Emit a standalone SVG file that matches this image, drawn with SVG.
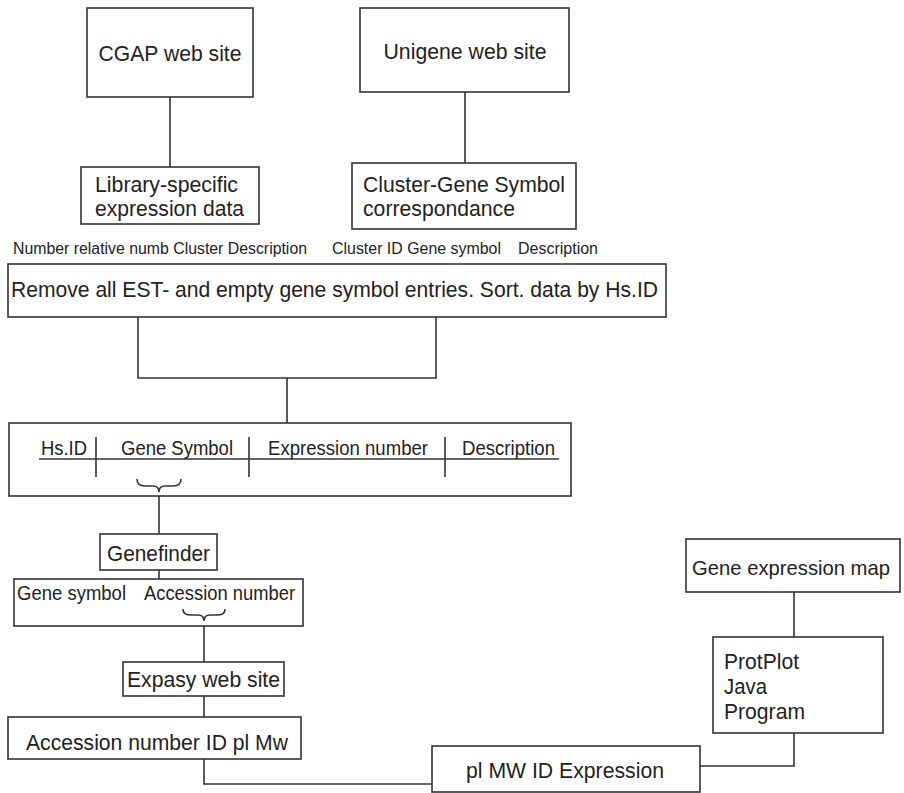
<svg xmlns="http://www.w3.org/2000/svg" width="904" height="793" viewBox="0 0 904 793">
<style>
  .box { fill: #ffffff; stroke: #333333; stroke-width: 1.6; }
  .ln { fill: none; stroke: #333333; stroke-width: 1.6; }
  text { font-family: "Liberation Sans", Arial, sans-serif; fill: #222222; }
  .t22 { font-size: 22px; }
  .t21 { font-size: 21px; }
  .t20 { font-size: 20px; }
  .t16 { font-size: 16px; }
  .mid { text-anchor: middle; }
</style>
<rect width="904" height="793" fill="#ffffff"/>
<g id="connectors">
  <path class="ln" d="M170,97 V167"/>
  <path class="ln" d="M465,92 V163"/>
  <path class="ln" d="M138,317 V378 H436 V317"/>
  <path class="ln" d="M287,378 V423"/>
  <path class="ln" d="M159,492 V534"/>
  <path class="ln" d="M159,570 V579"/>
  <path class="ln" d="M204,621 V662"/>
  <path class="ln" d="M204,696 V717"/>
  <path class="ln" d="M204,759 V784 H432"/>
  <path class="ln" d="M700,766 H794 V733"/>
  <path class="ln" d="M794,592 V637"/>
</g>
<g id="cgap">
  <rect class="box" x="87" y="8" width="166" height="89"/>
  <text class="t22 mid" x="170" y="61" textLength="143" lengthAdjust="spacingAndGlyphs">CGAP web site</text>
</g>
<g id="unigene">
  <rect class="box" x="360" y="8" width="209" height="84"/>
  <text class="t22 mid" x="465" y="59" textLength="163" lengthAdjust="spacingAndGlyphs">Unigene web site</text>
</g>
<g id="library">
  <rect class="box" x="81" y="167" width="178" height="57"/>
  <text class="t22" x="95" y="192" textLength="143" lengthAdjust="spacingAndGlyphs">Library-specific</text>
  <text class="t22" x="95" y="216" textLength="149" lengthAdjust="spacingAndGlyphs">expression data</text>
</g>
<g id="cluster">
  <rect class="box" x="352" y="163" width="224" height="66"/>
  <text class="t22" x="363" y="192" textLength="202" lengthAdjust="spacingAndGlyphs">Cluster-Gene Symbol</text>
  <text class="t22" x="363" y="216" textLength="152" lengthAdjust="spacingAndGlyphs">correspondance</text>
</g>
<g id="labels">
  <text class="t16" x="13" y="254" textLength="294" lengthAdjust="spacingAndGlyphs">Number relative numb Cluster Description</text>
  <text class="t16" y="254"><tspan x="332" textLength="169" lengthAdjust="spacingAndGlyphs">Cluster ID Gene symbol</tspan><tspan x="518" textLength="80" lengthAdjust="spacingAndGlyphs">Description</tspan></text>
</g>
<g id="remove">
  <rect class="box" x="8" y="264" width="658" height="53"/>
  <text class="t22" x="11" y="297" textLength="647" lengthAdjust="spacingAndGlyphs">Remove all EST- and empty gene symbol entries. Sort. data by Hs.ID</text>
</g>
<g id="table">
  <rect class="box" x="9" y="423" width="562" height="73"/>
  <path class="ln" d="M39,459 H559 M96,437 V477 M249,437 V477 M445,437 V477"/>
  <path class="ln" d="M137,479 Q137,486 145,486 H153 Q159,486 159,492 Q159,486 165,486 H173 Q181,486 181,479"/>
  <text class="t20" x="41" y="455" textLength="46" lengthAdjust="spacingAndGlyphs">Hs.ID</text>
  <text class="t20" x="121" y="455" textLength="112" lengthAdjust="spacingAndGlyphs">Gene Symbol</text>
  <text class="t20" x="268" y="455" textLength="160" lengthAdjust="spacingAndGlyphs">Expression number</text>
  <text class="t20" x="462" y="455" textLength="93" lengthAdjust="spacingAndGlyphs">Description</text>
</g>
<g id="genefinder">
  <rect class="box" x="100" y="534" width="117" height="36"/>
  <text class="t22" x="107" y="561" textLength="103" lengthAdjust="spacingAndGlyphs">Genefinder</text>
</g>
<g id="genesymbol">
  <rect class="box" x="14" y="579" width="289" height="47"/>
  <text class="t20" y="600"><tspan x="17" textLength="109" lengthAdjust="spacingAndGlyphs">Gene symbol</tspan><tspan x="144" textLength="151" lengthAdjust="spacingAndGlyphs">Accession number</tspan></text>
  <path class="ln" d="M183,609 Q183,615 190,615 H198 Q204,615 204,621 Q204,615 210,615 H218 Q225,615 225,609"/>
</g>
<g id="expasy">
  <rect class="box" x="123" y="662" width="161" height="34"/>
  <text class="t22" x="127" y="687" textLength="153" lengthAdjust="spacingAndGlyphs">Expasy web site</text>
</g>
<g id="accession">
  <rect class="box" x="8" y="717" width="293" height="42"/>
  <text class="t22" x="26" y="750" textLength="262" lengthAdjust="spacingAndGlyphs">Accession number ID pl Mw</text>
</g>
<g id="plmw">
  <rect class="box" x="432" y="746" width="268" height="46"/>
  <text class="t22" x="466" y="778" textLength="198" lengthAdjust="spacingAndGlyphs">pl MW ID Expression</text>
</g>
<g id="genemap">
  <rect class="box" x="686" y="539" width="214" height="53"/>
  <text class="t21" x="692" y="575" textLength="198" lengthAdjust="spacingAndGlyphs">Gene expression map</text>
</g>
<g id="protplot">
  <rect class="box" x="713" y="637" width="170" height="96"/>
  <text class="t22" x="724" y="669" textLength="75" lengthAdjust="spacingAndGlyphs">ProtPlot</text>
  <text class="t22" x="724" y="694" textLength="43" lengthAdjust="spacingAndGlyphs">Java</text>
  <text class="t22" x="724" y="719" textLength="81" lengthAdjust="spacingAndGlyphs">Program</text>
</g>
</svg>
